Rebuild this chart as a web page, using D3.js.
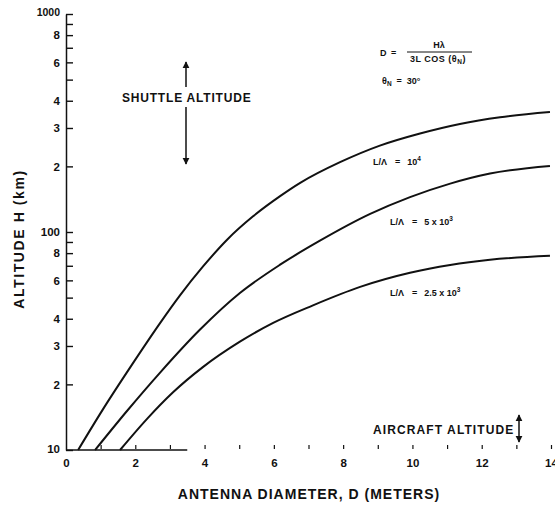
<!DOCTYPE html>
<html>
<head>
<meta charset="utf-8">
<script src="https://cdn.jsdelivr.net/npm/d3@7"></script>
<style>
  html, body { margin: 0; padding: 0; background: #fff; }
  svg { display: block; }
  text { font-family: "Liberation Sans", Arial, Helvetica, sans-serif; font-weight: bold; fill: #111; }
</style>
</head>
<body>
<svg id="chart" width="555" height="505"></svg>
<script>
// Antenna diameter D (meters) needed at altitude H (km), for three L/λ ratios
const diam1 = [0.35, 1.07, 1.91, 2.71, 3.29, 3.95, 4.65, 5.4, 6.18, 6.76, 7.91, 9.06, 10.22, 11.37, 12.53, 13.97];
const alt1  = [10, 15.4, 24.7, 38.1, 51.2, 69.3, 92.2, 118, 146, 168, 209, 249, 283, 313, 336, 355];

const diam2 = [0.84, 1.76, 2.71, 3.87, 5.02, 6.18, 7.33, 8.78, 9.93, 11.09, 12.24, 13.97];
const alt2  = [10, 15.1, 22.6, 35.7, 52.5, 70.8, 91.2, 121, 144.5, 166.7, 185.4, 200.9];

const diam3 = [1.56, 2.34, 3.09, 3.95, 5.02, 5.98, 7.13, 8.49, 9.93, 11.09, 12.24, 13.97];
const alt3  = [10, 13.9, 18.4, 24.0, 31.4, 38.3, 46.1, 56.0, 65.0, 70.6, 74.6, 77.8];

// series labels: ratio name, value text, exponent
const seriesValues = ["10", "5 x 10", "2.5 x 10"];
const seriesExps = ["4", "3", "3"];
// where each series label sits, in data units (D, H)
const labelD = [8.86, 9.35, 9.35];
const labelH = [203, 108, 50.8];

const xTicks = [0, 1, 2, 3, 4, 5, 6, 7, 8, 9, 10, 11, 12, 13, 14];
const yTicks = [10, 20, 30, 40, 50, 60, 70, 80, 90, 100, 200, 300, 400, 500, 600, 700, 800, 900, 1000];
const yTickLabels = ["10", "2", "3", "4", "", "6", "", "8", "", "100", "2", "3", "4", "", "6", "", "8", "", "1000"];

const svg = d3.select("#chart");

const x = d3.scaleLinear().domain([0, 14]).range([66, 551]);
const y = d3.scaleLog().domain([10, 1000]).range([450, 14]);

// arrow heads
const defs = svg.append("defs");
defs.append("marker")
  .attr("id", "head").attr("viewBox", "0 0 10 10")
  .attr("refX", 9).attr("refY", 5)
  .attr("markerWidth", 7).attr("markerHeight", 9)
  .attr("markerUnits", "userSpaceOnUse")
  .attr("orient", "auto")
  .append("path").attr("d", "M0,0 L10,5 L0,10 Z").attr("fill", "#111");

// y axis: ticks point into the plot, labels on the left
const yAxis = d3.axisLeft(y)
  .tickValues(yTicks)
  .tickSizeInner(-7).tickSizeOuter(0)
  .tickPadding(6)
  .tickFormat((d, i) => yTickLabels[i]);
const gy = svg.append("g").attr("transform", "translate(66,0)").call(yAxis);
gy.select(".domain").attr("stroke", "#111").attr("stroke-width", 1.5);
gy.selectAll(".tick line").attr("stroke", "#111").attr("stroke-width", 1.4);
gy.selectAll(".tick text").attr("font-size", 11.5).attr("fill", "#111")
  .attr("font-family", "Liberation Sans, Arial, sans-serif").attr("font-weight", "bold");
gy.selectAll(".tick text").filter(d => d === 1000).attr("font-size", 10.5).attr("dy", "0.1em");
gy.selectAll(".tick text").filter(d => d === 10).attr("dy", "0.25em");

// x axis: small upward ticks, labels on even values
const xAxis = d3.axisBottom(x)
  .tickValues(xTicks)
  .tickSizeInner(-5).tickSizeOuter(0)
  .tickPadding(9)
  .tickFormat(d => d % 2 === 0 ? d : "");
const gx = svg.append("g").attr("transform", "translate(0,450)").call(xAxis);
gx.select(".domain").remove();
gx.selectAll(".tick line").attr("stroke", "#111").attr("stroke-width", 1.2)
  .attr("y1", -1);
gx.selectAll(".tick").filter(d => d === 0).select("line").remove();
gx.selectAll(".tick text").attr("font-size", 11.5).attr("fill", "#111")
  .attr("font-family", "Liberation Sans, Arial, sans-serif").attr("font-weight", "bold");

// baseline only survives along the first part of the axis
svg.append("line")
  .attr("x1", x(0)).attr("x2", x(3.5))
  .attr("y1", y(10)).attr("y2", y(10))
  .attr("stroke", "#111").attr("stroke-width", 1.5);

// curves
const line = d3.line()
  .x(d => x(d[0])).y(d => y(d[1]))
  .curve(d3.curveMonotoneX);

[[diam1, alt1], [diam2, alt2], [diam3, alt3]].forEach(([ds, hs]) => {
  svg.append("path")
    .datum(ds.map((d, i) => [d, hs[i]]))
    .attr("d", line)
    .attr("fill", "none")
    .attr("stroke", "#111")
    .attr("stroke-width", 2);
});

// curve labels
seriesValues.forEach((val, i) => {
  const t = svg.append("text")
    .attr("x", x(labelD[i])).attr("y", y(labelH[i]))
    .attr("font-size", 9);
  t.append("tspan").text("L/\u039B");
  t.append("tspan").attr("dx", 8).text("=");
  t.append("tspan").attr("dx", 7).text(val);
  t.append("tspan").attr("dy", -4).attr("font-size", 6.5).text(seriesExps[i]);
});

// formula
const fs = 9;
svg.append("text").attr("x", 380).attr("y", 56).attr("font-size", fs).text("D");
svg.append("text").attr("x", 391).attr("y", 56).attr("font-size", fs).text("=");
svg.append("text").attr("x", 439).attr("y", 48).attr("font-size", fs)
  .attr("text-anchor", "middle").text("H\u03BB");
svg.append("line").attr("x1", 407).attr("x2", 472).attr("y1", 52).attr("y2", 52)
  .attr("stroke", "#111").attr("stroke-width", 1);
const den = svg.append("text").attr("x", 410).attr("y", 62).attr("font-size", fs)
  .attr("letter-spacing", 0.5);
den.append("tspan").text("3L COS (\u03B8");
den.append("tspan").attr("dy", 2).attr("font-size", 6.5).text("N");
den.append("tspan").attr("dy", -2).text(")");
const th = svg.append("text").attr("x", 382).attr("y", 84).attr("font-size", fs);
th.append("tspan").text("\u03B8");
th.append("tspan").attr("dy", 2).attr("font-size", 6.5).text("N");
th.append("tspan").attr("dy", -2).attr("dx", 5).text("=");
th.append("tspan").attr("dx", 5).text("30\u00B0");

// shuttle altitude marker
svg.append("text").attr("x", 122).attr("y", 102).attr("font-size", 12)
  .attr("letter-spacing", 0.8).text("SHUTTLE ALTITUDE");
svg.append("line").attr("x1", 186).attr("x2", 186).attr("y1", 87).attr("y2", 62)
  .attr("stroke", "#111").attr("stroke-width", 1.5).attr("marker-end", "url(#head)");
svg.append("line").attr("x1", 186).attr("x2", 186).attr("y1", 107).attr("y2", 164)
  .attr("stroke", "#111").attr("stroke-width", 1.5).attr("marker-end", "url(#head)");

// aircraft altitude marker
svg.append("text").attr("x", 373).attr("y", 434).attr("font-size", 12)
  .attr("letter-spacing", 1.1).text("AIRCRAFT ALTITUDE");
svg.append("line").attr("x1", 519).attr("x2", 519).attr("y1", 428).attr("y2", 415)
  .attr("stroke", "#111").attr("stroke-width", 1.5).attr("marker-end", "url(#head)");
svg.append("line").attr("x1", 519).attr("x2", 519).attr("y1", 428).attr("y2", 442)
  .attr("stroke", "#111").attr("stroke-width", 1.5).attr("marker-end", "url(#head)");

// axis titles
svg.append("text")
  .attr("transform", "translate(24,239) rotate(-90)")
  .attr("text-anchor", "middle").attr("font-size", 14)
  .attr("letter-spacing", 1.6)
  .text("ALTITUDE H (km)");
svg.append("text")
  .attr("x", 309).attr("y", 499)
  .attr("text-anchor", "middle").attr("font-size", 14)
  .attr("letter-spacing", 1)
  .text("ANTENNA DIAMETER, D (METERS)");
</script>
</body>
</html>
